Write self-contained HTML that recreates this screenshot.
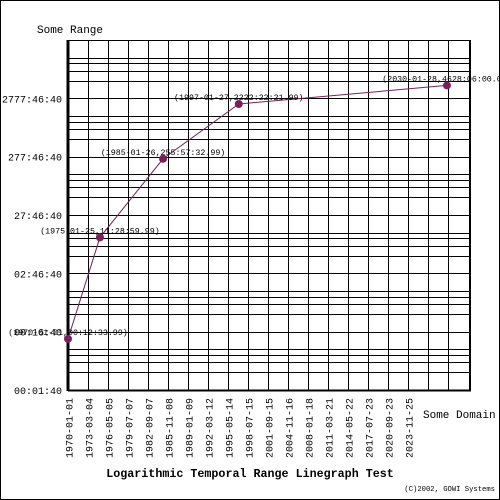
<!DOCTYPE html>
<html><head><meta charset="utf-8"><style>
html,body{margin:0;padding:0;background:#fff}
svg{display:block}
text{font-family:"Liberation Mono",monospace}
</style></head><body>
<svg id="chart" width="500" height="500" xmlns="http://www.w3.org/2000/svg">
<rect x="0.5" y="0.5" width="499" height="499" fill="#fff" stroke="#000"/>
<g id="grid"></g>
<g id="axes"></g>
<g id="series"></g>
<text x="37" y="33" font-size="11">Some Range</text>
<text x="423" y="418" font-size="11">Some Domain</text>
<text x="250" y="477" font-size="11.7" font-weight="bold" text-anchor="middle">Logarithmic Temporal Range Linegraph Test</text>
<text x="495" y="491" font-size="7.2" text-anchor="end">(C)2002, GOWI Systems</text>
</svg>
<script>
const xTickLabels=["1970-01-01","1973-03-04","1976-05-05","1979-07-07","1982-09-07","1985-11-08","1989-01-09","1992-03-12","1995-05-14","1998-07-15","2001-09-15","2004-11-16","2008-01-18","2011-03-21","2014-05-22","2017-07-23","2020-09-23","2023-11-25"];
const yTickValues=[100,1000,10000,100000,1000000,10000000];
const yTickLabels=["00:01:40","00:16:40","02:46:40","27:46:40","277:46:40","2777:46:40"];
const pointDates=["1970-01-01","1975-01-25","1985-01-26","1997-01-27","2030-01-28"];
const pointValues=[753.99,41339.99,921452.99,8000541.99,16661160];
const pointLabels=["(1970-01-01,00:12:33.99)","(1975-01-25,11:28:59.99)","(1985-01-26,255:57:32.99)","(1997-01-27,2222:22:21.99)","(2030-01-28,4628:06:00.00)"];

const NS="http://www.w3.org/2000/svg";
const L=68,R=470,T=40,B=390;
const DAY=86400000, t0=Date.UTC(1970,0,1), PXDAY=20/1158;
function days(s){const p=s.split('-');return (Date.UTC(+p[0],p[1]-1,+p[2])-t0)/DAY;}
function xs(s){return L+days(s)*PXDAY;}
const DEC=58.33;
function ys(v){return B-(Math.log10(v)-2)*DEC;}
function mk(tag,attrs,parent){const e=document.createElementNS(NS,tag);for(const k in attrs)e.setAttribute(k,attrs[k]);parent.appendChild(e);return e;}
const grid=document.getElementById('grid'),axes=document.getElementById('axes'),ser=document.getElementById('series');

// horizontal log grid (1..5 per decade)
for(let d=2;d<=8;d++){for(let m=1;m<=5;m++){const v=m*Math.pow(10,d);const y=Math.round(ys(v))+0.5;if(y<T-1)continue;
const ln=mk('line',{x1:L,x2:R,y1:y,y2:y,stroke:'#000','stroke-width':1},grid);

}}
{const ln=mk('line',{x1:L,x2:R,y1:T+0.5,y2:T+0.5,stroke:'#000'},grid);

}
// vertical grid
for(let i=1;i*20+L<R-5;i++){const x=L+i*20+0.5;
const ln=mk('line',{x1:x,x2:x,y1:T,y2:B,stroke:'#000'},grid);

}
// axes
{const a=mk('line',{x1:L,x2:L,y1:T,y2:B+1,stroke:'#000','stroke-width':3},axes);


const b=mk('line',{x1:L,x2:R+1,y1:B+0.5,y2:B+0.5,stroke:'#000','stroke-width':2},axes);


const r=mk('line',{x1:R,x2:R,y1:T,y2:B+1,stroke:'#000','stroke-width':2},axes);

}
// y ticks
yTickValues.forEach((v,i)=>{const t=mk('text',{x:62,y:ys(v)+4,'font-size':10,'text-anchor':'end'},axes);t.textContent=yTickLabels[i];

});
// x ticks
xTickLabels.forEach(s=>{const x=xs(s)+4.5;const t=mk('text',{x:x,y:398,'font-size':10,'text-anchor':'end',transform:`rotate(-90 ${x} 398)`},axes);t.textContent=s;

});
// series
const pts=pointDates.map((d,i)=>[xs(d),ys(pointValues[i])]);
{const pl=mk('polyline',{points:pts.map(p=>p.join(',')).join(' '),fill:'none',stroke:'#7a1f5c','stroke-width':1},ser);

}
pts.forEach((p,i)=>{const c=mk('circle',{cx:p[0],cy:p[1],r:4,fill:'#7a1f5c'},ser);


const t=mk('text',{x:p[0],y:p[1]-4,'font-size':8.3,'text-anchor':'middle'},ser);t.textContent=pointLabels[i];

});
</script>
</body></html>
